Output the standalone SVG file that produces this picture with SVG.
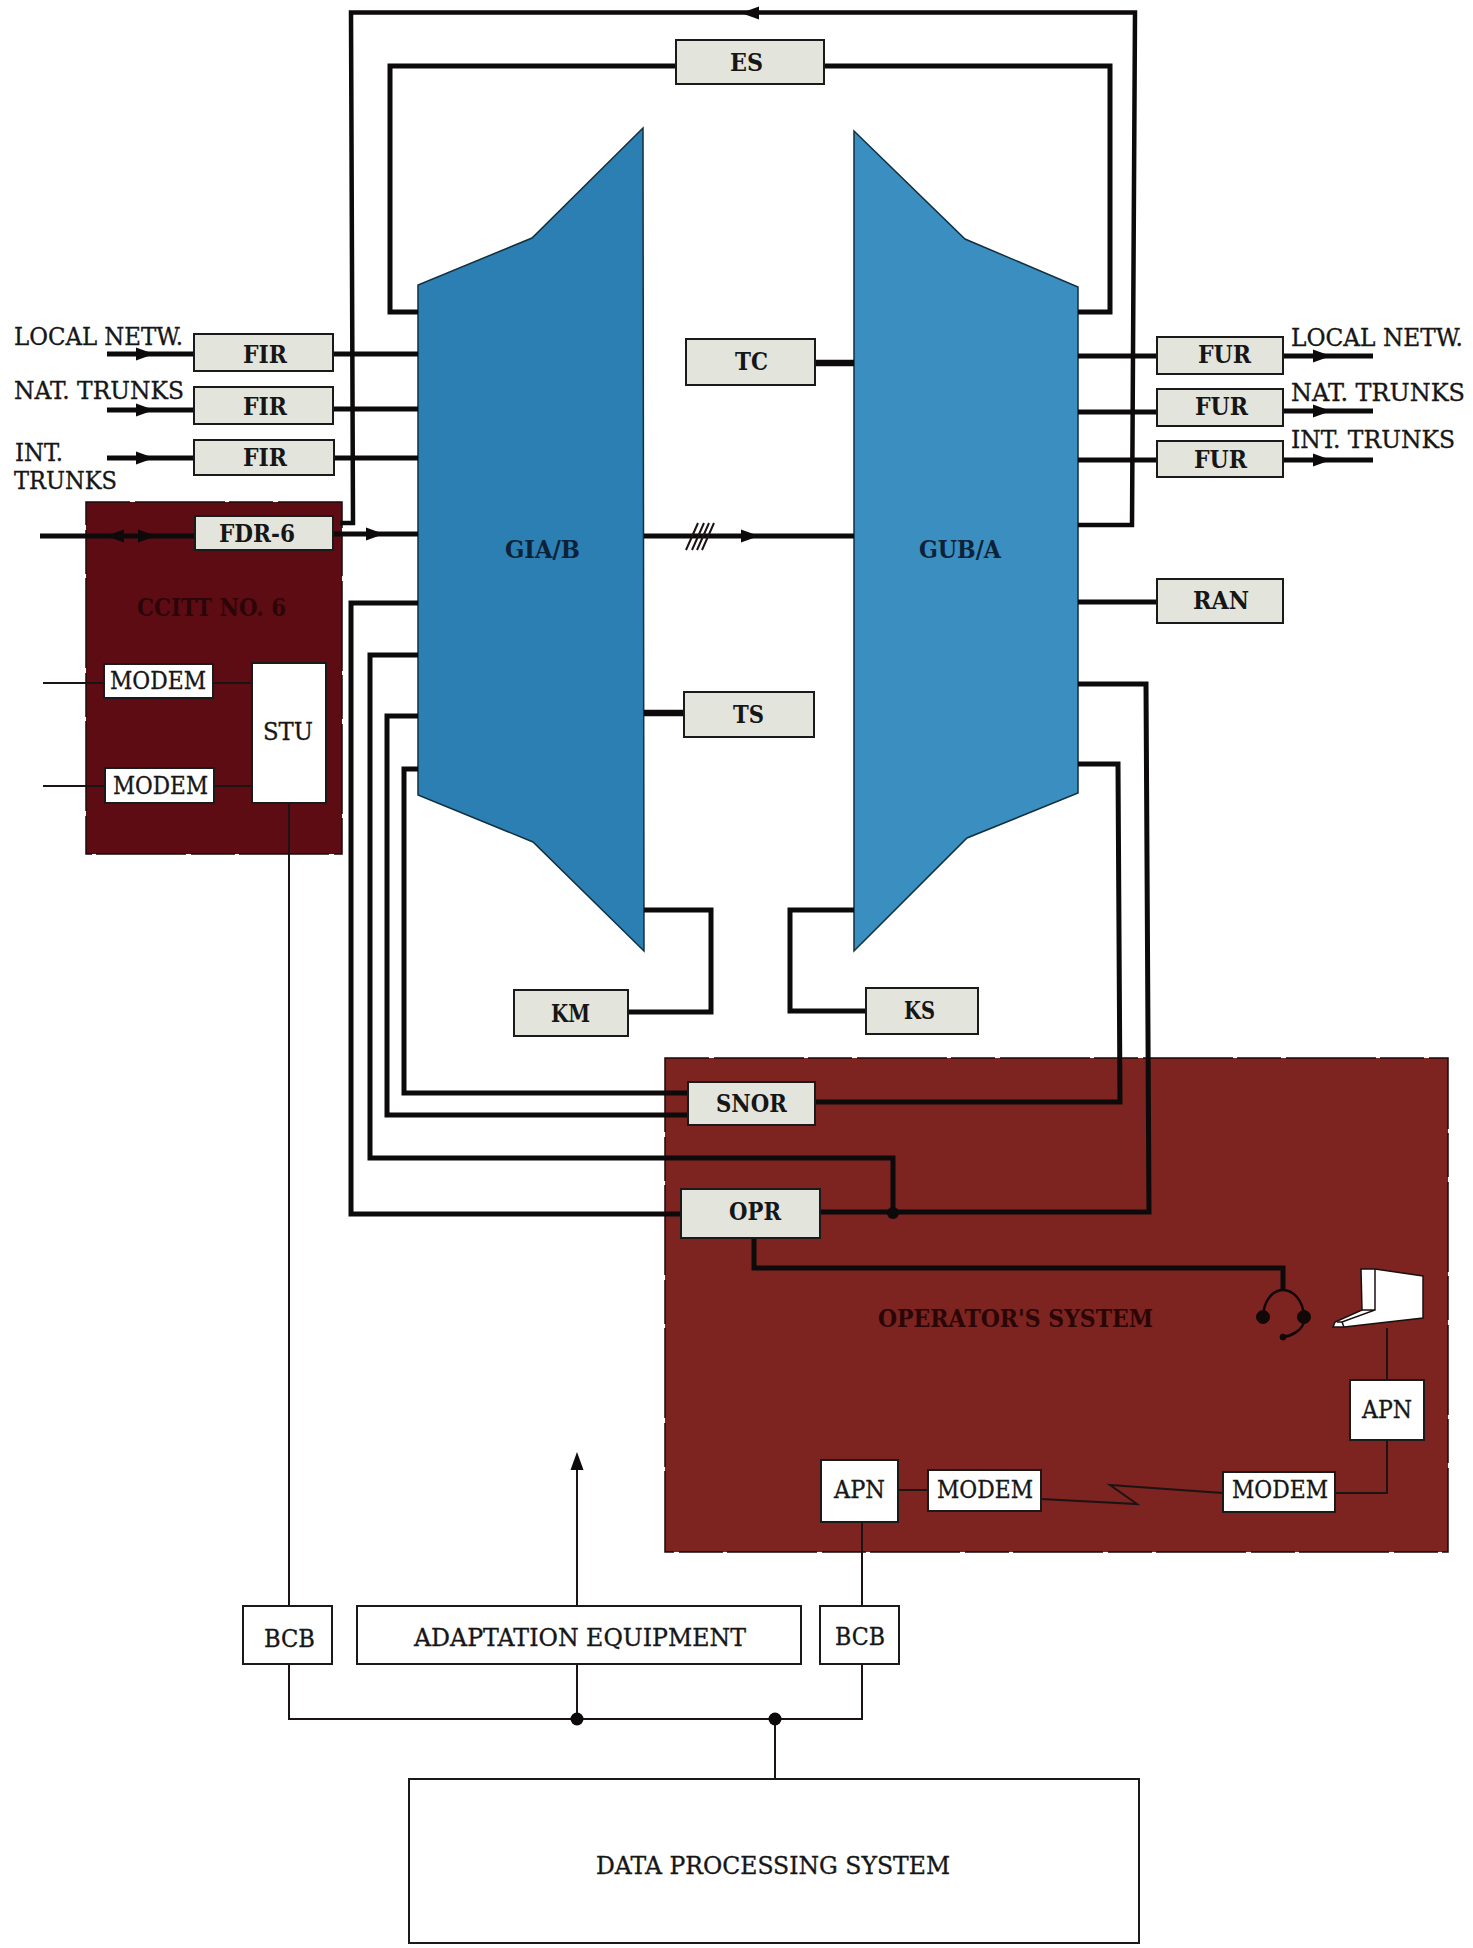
<svg xmlns="http://www.w3.org/2000/svg" width="1473" height="1948" viewBox="0 0 1473 1948">
<style>
text{font-family:"DejaVu Serif","Liberation Serif",serif;font-size:25px;fill:#161616;stroke:#161616;stroke-width:.35}
.b{font-weight:bold;stroke:none}
.g rect,rect.g{fill:#e3e4dc;stroke:#1a1a1a;stroke-width:2}
rect.w{fill:#fff;stroke:#1a1a1a;stroke-width:2}
.h{fill:none;stroke:#0c0a0a;stroke-width:5;stroke-linejoin:miter}
.m{fill:none;stroke:#0c0a0a;stroke-width:4.500}
.t{fill:none;stroke:#1c1414;stroke-width:2}
.d{fill:#0c0a0a}
.p{stroke:#1c0808;stroke-width:1.500;stroke-dasharray:44 5 90 4}
</style>
<defs>
<path id="ar" d="M-9-6.500L9 0L-9 6.500Z" fill="#0c0a0a"/>
</defs>
<rect width="1473" height="1948" fill="#fff"/>
<g id="panel-ccitt"><rect class="p" x="86" y="502" width="256" height="352" fill="#5d0c14"/><text class="b" x="137" y="616" textLength="149" lengthAdjust="spacingAndGlyphs" style="fill:#2c0508">CCITT NO. 6</text></g>
<g id="panel-operator"><rect class="p" x="665" y="1058" width="783" height="494" fill="#7d2320"/><text class="b" x="878" y="1327" textLength="275" lengthAdjust="spacingAndGlyphs" style="fill:#2a0606">OPERATOR'S SYSTEM</text></g>
<g id="GIA"><polygon points="643,128 644,951 533,842 418,795 418,285 532,238" fill="#2b7fb3" stroke="#12303f" stroke-width="1.500"/><text class="b" x="505" y="558" textLength="75" lengthAdjust="spacingAndGlyphs" style="fill:#0c2238">GIA/B</text></g>
<g id="GUB"><polygon points="854,131 965,239 1078,287 1078,793 967,838 854,951" fill="#3a8fc0" stroke="#12303f" stroke-width="1.500"/><text class="b" x="919" y="558" textLength="82" lengthAdjust="spacingAndGlyphs" style="fill:#0c2238">GUB/A</text></g>
<g id="connectors">
<path class="m" d="M1078 525H1132L1135 12.500H351L353 523H340"/>
<path class="h" d="M676 66H390V312H418M824 66H1110V312H1078"/>
<path class="h" d="M107 354H193M333 354H418M107 410H193M333 409H418M107 458H193M333 458H418"/>
<path class="h" d="M40 536H195M333 534H418"/>
<path class="h" d="M1078 356H1157M1283 356H1373M1078 412H1157M1283 411H1373M1078 460H1157M1283 460H1373M1078 602H1157"/>
<path class="h" d="M644 536H854"/>
<path class="h" style="stroke-width:6.500" d="M815 363H854M644 713H684"/>
<path class="h" d="M644 910H711V1012H628M854 910H790V1011H866"/>
<path class="h" d="M418 769H404V1093H688M418 716H387V1115H688M418 655H370V1158H893V1213M418 603H351V1214H681M820 1212H1149L1146 684H1078M1078 764H1118L1120 1102H814"/>
<path class="h" d="M754 1238V1268H1283V1290"/>
<path class="t" d="M43 683H104M213 683H252M43 786H105M214 786H252"/>
<path class="t" d="M289 803V1606M289 1664V1719H862V1664M577 1664V1719M775 1719V1779M862 1606V1522"/>
<path class="t" d="M577 1606V1468"/>
<path class="t" d="M898 1490H928M1041 1499L1137 1504L1110 1485L1223 1493M1335 1493H1387V1440M1387 1380V1328"/>
<path class="t" d="M686 550L698 523M692 550L704 523M697 550L709 523M702 550L714 523"/>
<use href="#ar" transform="translate(750 13) rotate(180)"/>
<use href="#ar" transform="translate(145 354)"/><use href="#ar" transform="translate(145 410)"/><use href="#ar" transform="translate(145 458)"/>
<use href="#ar" transform="translate(115 536) rotate(180)"/><use href="#ar" transform="translate(147 536)"/><use href="#ar" transform="translate(375 534)"/>
<use href="#ar" transform="translate(1322 356)"/><use href="#ar" transform="translate(1322 411)"/><use href="#ar" transform="translate(1322 460)"/>
<use href="#ar" transform="translate(750 536)"/>
<use href="#ar" transform="translate(577 1461) rotate(-90)"/>
<circle class="d" cx="893" cy="1213" r="6"/><circle class="d" cx="577" cy="1719" r="6.500"/><circle class="d" cx="775" cy="1719" r="6.500"/>
</g>
<g id="ES" class="g"><rect x="676" y="40" width="148" height="44"/><text class="b" x="730" y="71" textLength="33" lengthAdjust="spacingAndGlyphs">ES</text></g>
<g id="FIR1" class="g"><rect x="194" y="334" width="139" height="37"/><text class="b" x="243" y="363" textLength="44" lengthAdjust="spacingAndGlyphs">FIR</text></g>
<g id="FIR2" class="g"><rect x="194" y="387" width="139" height="37"/><text class="b" x="243" y="415" textLength="44" lengthAdjust="spacingAndGlyphs">FIR</text></g>
<g id="FIR3" class="g"><rect x="194" y="440" width="140" height="35"/><text class="b" x="243" y="466" textLength="44" lengthAdjust="spacingAndGlyphs">FIR</text></g>
<g id="FDR6" class="g"><rect x="195" y="516" width="138" height="34"/><text class="b" x="219" y="542" textLength="76" lengthAdjust="spacingAndGlyphs">FDR-6</text></g>
<g id="FUR1" class="g"><rect x="1157" y="337" width="126" height="37"/><text class="b" x="1198" y="363" textLength="53" lengthAdjust="spacingAndGlyphs">FUR</text></g>
<g id="FUR2" class="g"><rect x="1157" y="389" width="126" height="37"/><text class="b" x="1195" y="415" textLength="53" lengthAdjust="spacingAndGlyphs">FUR</text></g>
<g id="FUR3" class="g"><rect x="1157" y="441" width="126" height="36"/><text class="b" x="1194" y="468" textLength="53" lengthAdjust="spacingAndGlyphs">FUR</text></g>
<g id="RAN" class="g"><rect x="1157" y="579" width="126" height="44"/><text class="b" x="1193" y="609" textLength="56" lengthAdjust="spacingAndGlyphs">RAN</text></g>
<g id="TC" class="g"><rect x="686" y="339" width="129" height="46"/><text class="b" x="735" y="370" textLength="33" lengthAdjust="spacingAndGlyphs">TC</text></g>
<g id="TS" class="g"><rect x="684" y="692" width="130" height="45"/><text class="b" x="733" y="723" textLength="31" lengthAdjust="spacingAndGlyphs">TS</text></g>
<g id="KM" class="g"><rect x="514" y="990" width="114" height="46"/><text class="b" x="551" y="1022" textLength="39" lengthAdjust="spacingAndGlyphs">KM</text></g>
<g id="KS" class="g"><rect x="866" y="988" width="112" height="46"/><text class="b" x="904" y="1019" textLength="31" lengthAdjust="spacingAndGlyphs">KS</text></g>
<g id="SNOR" class="g"><rect x="688" y="1082" width="127" height="43"/><text class="b" x="716" y="1112" textLength="71" lengthAdjust="spacingAndGlyphs">SNOR</text></g>
<g id="OPR" class="g"><rect x="681" y="1189" width="139" height="49"/><text class="b" x="729" y="1220" textLength="52" lengthAdjust="spacingAndGlyphs">OPR</text></g>
<g id="MODEM1"><rect class="w" x="104" y="664" width="109" height="34"/><text x="110" y="689" textLength="96" lengthAdjust="spacingAndGlyphs">MODEM</text></g>
<g id="MODEM2"><rect class="w" x="105" y="768" width="109" height="35"/><text x="113" y="794" textLength="95" lengthAdjust="spacingAndGlyphs">MODEM</text></g>
<g id="STU"><rect class="w" x="252" y="663" width="74" height="140"/><text x="263" y="740" textLength="50" lengthAdjust="spacingAndGlyphs">STU</text></g>
<g id="APN1"><rect class="w" x="821" y="1460" width="77" height="62"/><text x="834" y="1498" textLength="51" lengthAdjust="spacingAndGlyphs">APN</text></g>
<g id="MODEM3"><rect class="w" x="928" y="1470" width="113" height="41"/><text x="937" y="1498" textLength="96" lengthAdjust="spacingAndGlyphs">MODEM</text></g>
<g id="MODEM4"><rect class="w" x="1223" y="1472" width="112" height="40"/><text x="1232" y="1498" textLength="96" lengthAdjust="spacingAndGlyphs">MODEM</text></g>
<g id="APN2"><rect class="w" x="1350" y="1380" width="74" height="60"/><text x="1362" y="1418" textLength="50" lengthAdjust="spacingAndGlyphs">APN</text></g>
<g id="BCB1"><rect class="w" x="243" y="1606" width="89" height="58"/><text x="264" y="1647" textLength="51" lengthAdjust="spacingAndGlyphs">BCB</text></g>
<g id="ADAPT"><rect class="w" x="357" y="1606" width="444" height="58"/><text x="414" y="1646" textLength="332" lengthAdjust="spacingAndGlyphs">ADAPTATION EQUIPMENT</text></g>
<g id="BCB2"><rect class="w" x="820" y="1606" width="79" height="58"/><text x="835" y="1645" textLength="50" lengthAdjust="spacingAndGlyphs">BCB</text></g>
<g id="DPS"><rect class="w" x="409" y="1779" width="730" height="164"/><text x="596" y="1874" textLength="354" lengthAdjust="spacingAndGlyphs">DATA PROCESSING SYSTEM</text></g>
<g id="headset" fill="none" stroke="#120808">
<path d="M1263 1316C1264 1300 1273 1290 1283 1290C1293 1290 1303 1300 1304 1316" stroke-width="2.500"/>
<circle cx="1263" cy="1317" r="6.500" fill="#120808"/><circle cx="1304" cy="1317" r="6.500" fill="#120808"/>
<path d="M1304 1322C1302 1330 1292 1336 1283 1337" stroke-width="2.500"/><circle cx="1283" cy="1337" r="3" fill="#120808"/>
</g>
<g id="terminal">
<path d="M1361 1269H1375L1423 1276V1318L1344 1327H1333L1335 1322L1362 1310Z" fill="#fff" stroke="#1a1010" stroke-width="1.500"/>
<path d="M1375 1269V1310L1342 1322L1337 1322M1362 1310H1375M1344 1327L1342 1322" fill="none" stroke="#1a1010" stroke-width="1.500"/>
</g>
<g id="labels">
<text x="14" y="345" textLength="169" lengthAdjust="spacingAndGlyphs">LOCAL NETW.</text>
<text x="14" y="399" textLength="170" lengthAdjust="spacingAndGlyphs">NAT. TRUNKS</text>
<text x="15" y="461" textLength="48" lengthAdjust="spacingAndGlyphs">INT.</text>
<text x="14" y="489" textLength="103" lengthAdjust="spacingAndGlyphs">TRUNKS</text>
<text x="1291" y="346" textLength="172" lengthAdjust="spacingAndGlyphs">LOCAL NETW.</text>
<text x="1291" y="401" textLength="174" lengthAdjust="spacingAndGlyphs">NAT. TRUNKS</text>
<text x="1291" y="448" textLength="164" lengthAdjust="spacingAndGlyphs">INT. TRUNKS</text>
</g>
</svg>
